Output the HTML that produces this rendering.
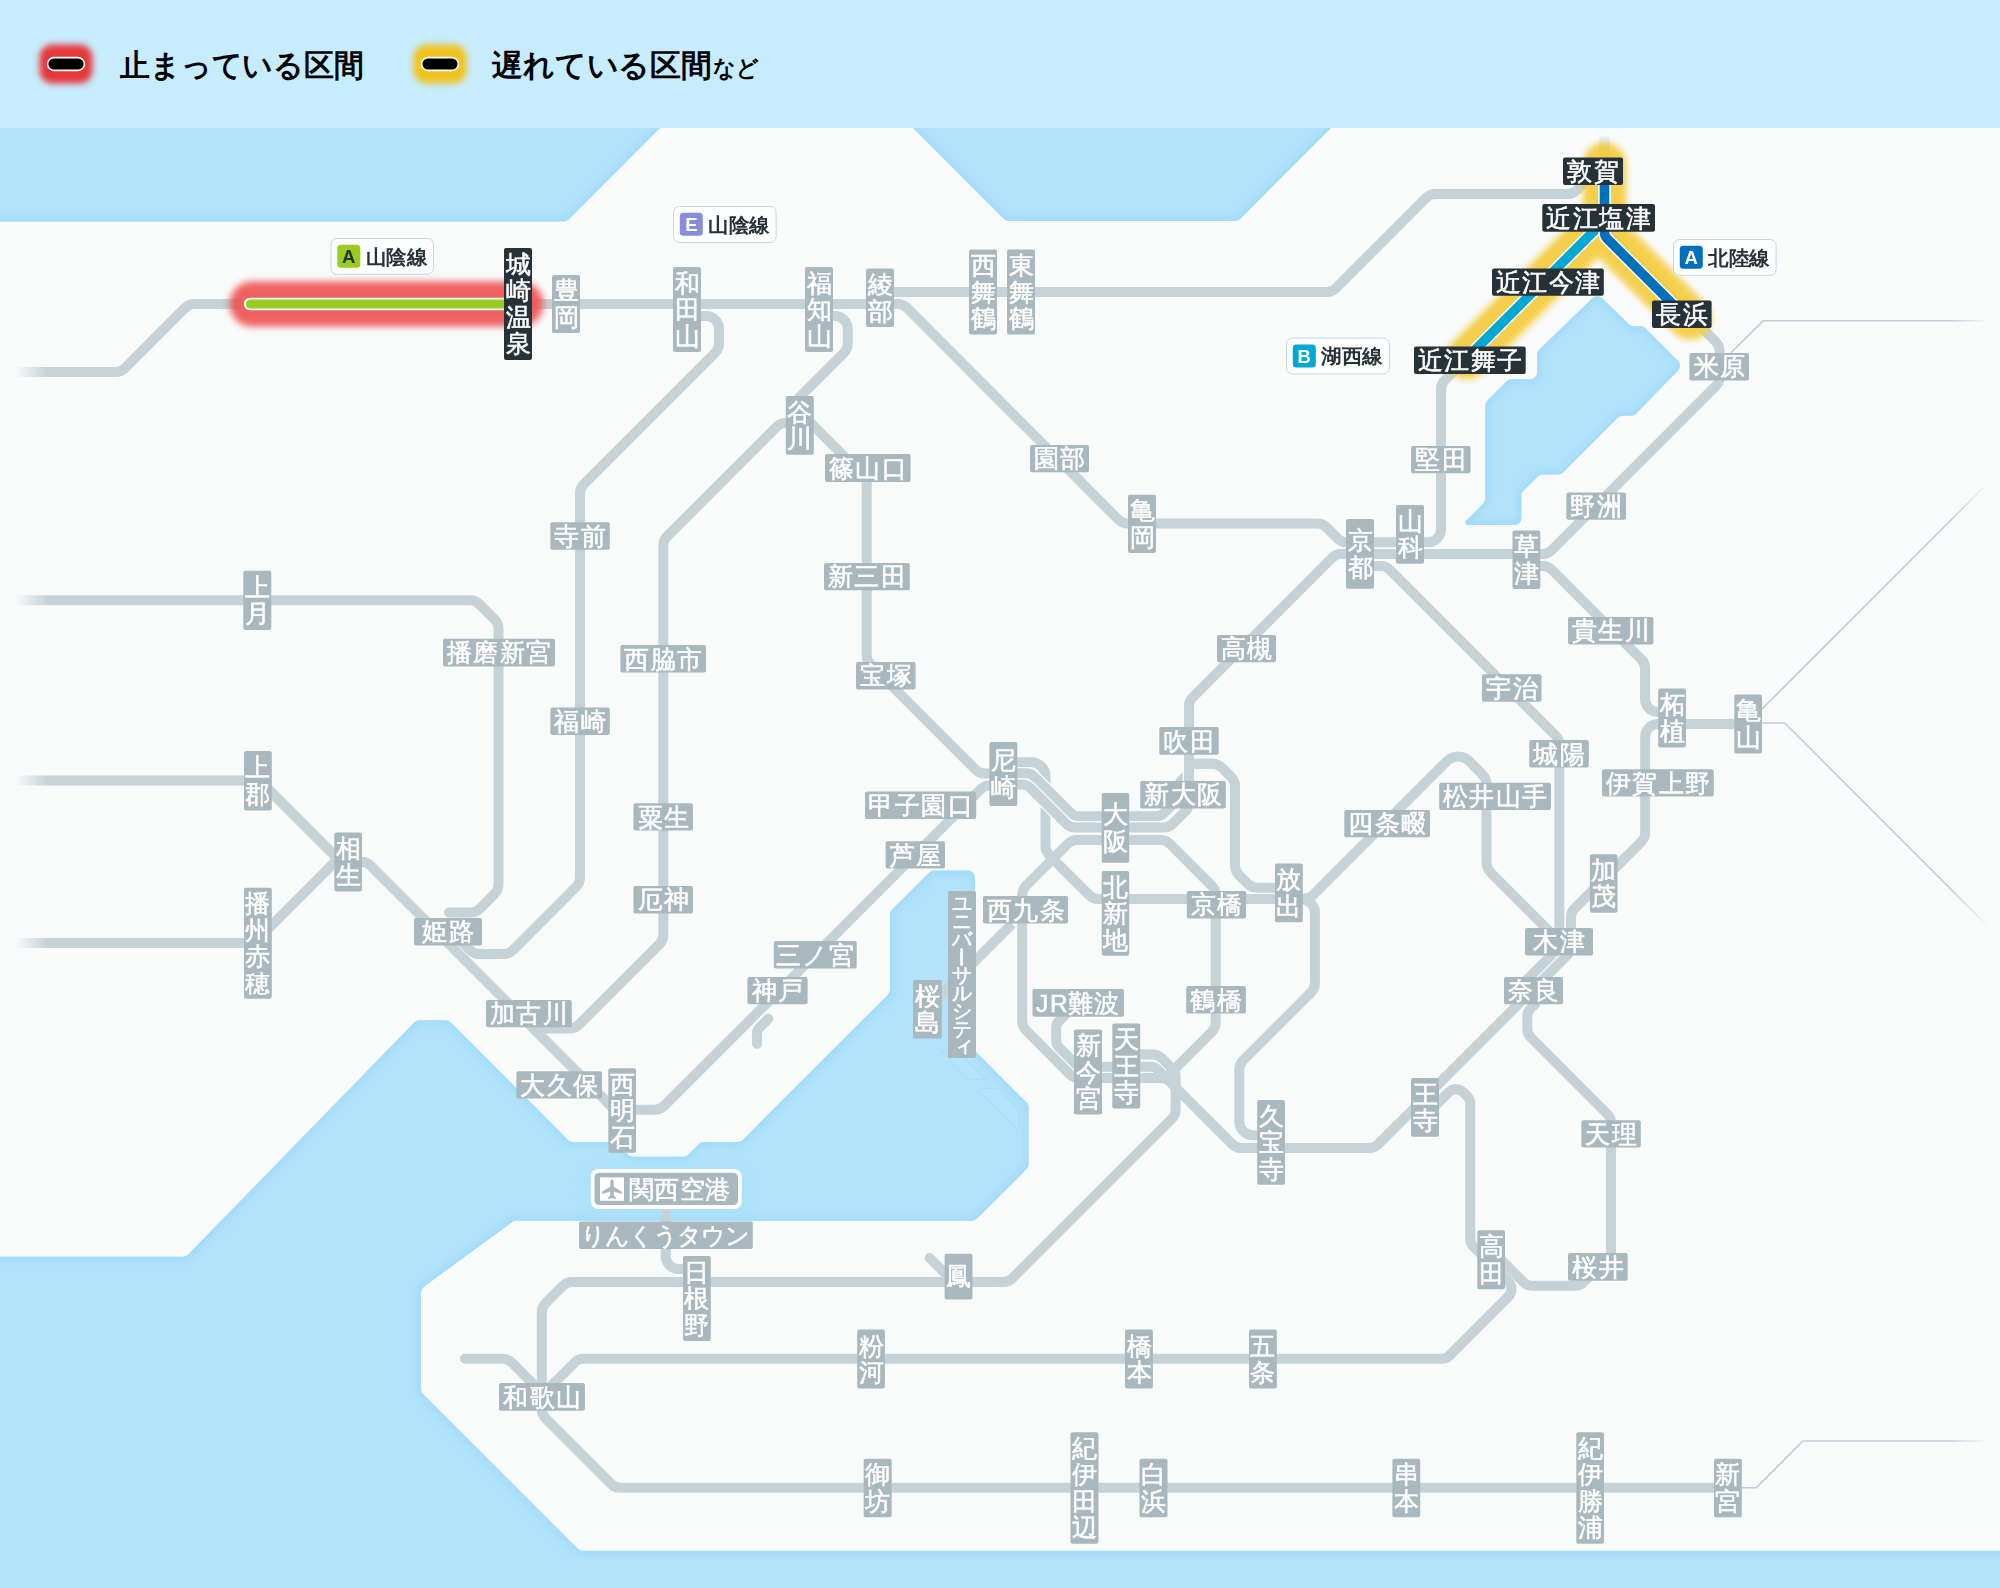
<!DOCTYPE html>
<html lang="ja"><head><meta charset="utf-8"><title>JR West operation map</title>
<style>html,body{margin:0;padding:0;background:#c6ecfe}body{width:2000px;height:1588px;overflow:hidden;font-family:"Liberation Sans", sans-serif}svg{display:block}svg text{font-family:"Liberation Sans", sans-serif}.st text{fill:#fff;text-anchor:middle;stroke:#fff;stroke-width:0.55px}</style></head><body>
<svg width="2000" height="1588" viewBox="0 0 2000 1588">
<defs>
<filter id="gl" filterUnits="userSpaceOnUse" x="0" y="0" width="2000" height="1588"><feGaussianBlur stdDeviation="3.6"/></filter>
<filter id="gl2" filterUnits="userSpaceOnUse" x="0" y="0" width="2000" height="1588"><feGaussianBlur stdDeviation="3.4"/></filter>
<filter id="se" filterUnits="userSpaceOnUse" x="-50" y="0" width="2100" height="1700"><feGaussianBlur stdDeviation="3.5"/></filter>
<filter id="halo" x="-20%" y="-60%" width="140%" height="220%"><feGaussianBlur stdDeviation="9"/></filter>
<linearGradient id="fl" x1="0" x2="1" y1="0" y2="0"><stop offset="0" stop-color="#f9fbfb"/><stop offset="0.3" stop-color="#f9fbfb"/><stop offset="1" stop-color="#f9fbfb" stop-opacity="0"/></linearGradient>
<linearGradient id="fr" x1="0" x2="1" y1="0" y2="0"><stop offset="0" stop-color="#f9fbfb" stop-opacity="0"/><stop offset="0.8" stop-color="#f9fbfb"/><stop offset="1" stop-color="#f9fbfb"/></linearGradient>
<linearGradient id="ft" x1="0" x2="0" y1="0" y2="1"><stop offset="0" stop-color="#f9fbfb"/><stop offset="1" stop-color="#f9fbfb" stop-opacity="0"/></linearGradient>
<clipPath id="sc0"><path d="M-20,107A7,7 0 0 1 -13,100L671.1,100A7,7 0 0 1 676.1,111.9L568.6,219.4A7,7 0 0 1 563.6,221.5L-13,221.5A7,7 0 0 1 -20,214.5Z"/></clipPath>
<clipPath id="sc1"><path d="M896.9,111.9A7,7 0 0 1 901.9,100L1342.1,100A7,7 0 0 1 1347.1,111.9L1240.1,218.9A7,7 0 0 1 1235.1,221L1008.9,221A7,7 0 0 1 1003.9,218.9Z"/></clipPath>
<clipPath id="sc2"><path d="M1592.3,298.2A7,7 0 0 1 1602.1,298.2L1629,324.3A7,7 0 0 0 1633.8,326.3L1640.6,326.3A7,7 0 0 1 1645.6,328.4L1677.9,360.7A7,7 0 0 1 1678,370.5L1636.1,413.7A7,7 0 0 1 1631,415.8L1622.4,415.8A7,7 0 0 0 1617.4,417.9L1563,472.5A7,7 0 0 1 1558,474.6L1542.6,474.6A7,7 0 0 0 1537.6,476.7L1523.5,490.8A7,7 0 0 0 1521.4,495.8L1521.4,518A7,7 0 0 1 1514.4,525L1468,525A2.5,2.5 0 0 1 1466.2,520.7L1483.3,503.6A7,7 0 0 0 1485.3,498.7L1485.3,405.4A7,7 0 0 1 1487.4,400.4L1506.4,381.4A7,7 0 0 1 1511.4,379.3L1530.2,379.3A7,7 0 0 0 1537.2,372.3L1537.2,354.5A7,7 0 0 1 1539.3,349.4Z"/></clipPath>
<clipPath id="sc3"><path d="M-20,1263.7A7,7 0 0 1 -13,1256.7L183,1256.7A7,7 0 0 0 188.1,1254.6L414.5,1022.3A7,7 0 0 1 419.6,1020.2L445.5,1020.2A7,7 0 0 1 450.5,1022.3L568.1,1139.9A7,7 0 0 0 573.1,1142L618.3,1142A7,7 0 0 1 625.1,1147.6L625.9,1151.1A7,7 0 0 0 632.7,1156.7L683.1,1156.7A7,7 0 0 0 688,1154.7L699,1144A7,7 0 0 1 703.9,1142L737.7,1142A7,7 0 0 0 742.7,1139.9L887.9,994.7A7,7 0 0 0 890,989.7L890,914.5A7,7 0 0 1 892.1,909.5L929.4,872.6A7,7 0 0 1 934.3,870.6L968,870.6A7,7 0 0 1 975,877.6L975,1048.1A7,7 0 0 0 977.1,1053.1L1026.6,1102.6A7,7 0 0 1 1028.7,1107.6L1028.7,1164.1A7,7 0 0 1 1026.6,1169.1L977.1,1218.6A7,7 0 0 1 972.1,1220.7L516.3,1220.7A7,7 0 0 0 512.2,1222.1L423.9,1286.7A7,7 0 0 0 421,1292.4L421,1389.1A7,7 0 0 0 423.1,1394.1L577.6,1548.6A7,7 0 0 0 582.6,1550.7L2013,1550.7A7,7 0 0 1 2020,1557.7L2020,1613A7,7 0 0 1 2013,1620L-13,1620A7,7 0 0 1 -20,1613Z"/></clipPath>
<clipPath id="map"><rect x="0" y="128" width="2000" height="1460"/></clipPath>
</defs>
<rect width="2000" height="1588" fill="#f9fbfb"/>
<g clip-path="url(#map)">
<path d="M-20,107A7,7 0 0 1 -13,100L671.1,100A7,7 0 0 1 676.1,111.9L568.6,219.4A7,7 0 0 1 563.6,221.5L-13,221.5A7,7 0 0 1 -20,214.5Z" fill="#b2e3fb"/>
<g clip-path="url(#sc0)"><path d="M-20,107A7,7 0 0 1 -13,100L671.1,100A7,7 0 0 1 676.1,111.9L568.6,219.4A7,7 0 0 1 563.6,221.5L-13,221.5A7,7 0 0 1 -20,214.5Z" fill="none" stroke="#9dd9f9" stroke-width="7" filter="url(#se)"/></g>
<path d="M896.9,111.9A7,7 0 0 1 901.9,100L1342.1,100A7,7 0 0 1 1347.1,111.9L1240.1,218.9A7,7 0 0 1 1235.1,221L1008.9,221A7,7 0 0 1 1003.9,218.9Z" fill="#b2e3fb"/>
<g clip-path="url(#sc1)"><path d="M896.9,111.9A7,7 0 0 1 901.9,100L1342.1,100A7,7 0 0 1 1347.1,111.9L1240.1,218.9A7,7 0 0 1 1235.1,221L1008.9,221A7,7 0 0 1 1003.9,218.9Z" fill="none" stroke="#9dd9f9" stroke-width="7" filter="url(#se)"/></g>
<path d="M1592.3,298.2A7,7 0 0 1 1602.1,298.2L1629,324.3A7,7 0 0 0 1633.8,326.3L1640.6,326.3A7,7 0 0 1 1645.6,328.4L1677.9,360.7A7,7 0 0 1 1678,370.5L1636.1,413.7A7,7 0 0 1 1631,415.8L1622.4,415.8A7,7 0 0 0 1617.4,417.9L1563,472.5A7,7 0 0 1 1558,474.6L1542.6,474.6A7,7 0 0 0 1537.6,476.7L1523.5,490.8A7,7 0 0 0 1521.4,495.8L1521.4,518A7,7 0 0 1 1514.4,525L1468,525A2.5,2.5 0 0 1 1466.2,520.7L1483.3,503.6A7,7 0 0 0 1485.3,498.7L1485.3,405.4A7,7 0 0 1 1487.4,400.4L1506.4,381.4A7,7 0 0 1 1511.4,379.3L1530.2,379.3A7,7 0 0 0 1537.2,372.3L1537.2,354.5A7,7 0 0 1 1539.3,349.4Z" fill="#b2e3fb"/>
<g clip-path="url(#sc2)"><path d="M1592.3,298.2A7,7 0 0 1 1602.1,298.2L1629,324.3A7,7 0 0 0 1633.8,326.3L1640.6,326.3A7,7 0 0 1 1645.6,328.4L1677.9,360.7A7,7 0 0 1 1678,370.5L1636.1,413.7A7,7 0 0 1 1631,415.8L1622.4,415.8A7,7 0 0 0 1617.4,417.9L1563,472.5A7,7 0 0 1 1558,474.6L1542.6,474.6A7,7 0 0 0 1537.6,476.7L1523.5,490.8A7,7 0 0 0 1521.4,495.8L1521.4,518A7,7 0 0 1 1514.4,525L1468,525A2.5,2.5 0 0 1 1466.2,520.7L1483.3,503.6A7,7 0 0 0 1485.3,498.7L1485.3,405.4A7,7 0 0 1 1487.4,400.4L1506.4,381.4A7,7 0 0 1 1511.4,379.3L1530.2,379.3A7,7 0 0 0 1537.2,372.3L1537.2,354.5A7,7 0 0 1 1539.3,349.4Z" fill="none" stroke="#9dd9f9" stroke-width="7" filter="url(#se)"/></g>
<path d="M-20,1263.7A7,7 0 0 1 -13,1256.7L183,1256.7A7,7 0 0 0 188.1,1254.6L414.5,1022.3A7,7 0 0 1 419.6,1020.2L445.5,1020.2A7,7 0 0 1 450.5,1022.3L568.1,1139.9A7,7 0 0 0 573.1,1142L618.3,1142A7,7 0 0 1 625.1,1147.6L625.9,1151.1A7,7 0 0 0 632.7,1156.7L683.1,1156.7A7,7 0 0 0 688,1154.7L699,1144A7,7 0 0 1 703.9,1142L737.7,1142A7,7 0 0 0 742.7,1139.9L887.9,994.7A7,7 0 0 0 890,989.7L890,914.5A7,7 0 0 1 892.1,909.5L929.4,872.6A7,7 0 0 1 934.3,870.6L968,870.6A7,7 0 0 1 975,877.6L975,1048.1A7,7 0 0 0 977.1,1053.1L1026.6,1102.6A7,7 0 0 1 1028.7,1107.6L1028.7,1164.1A7,7 0 0 1 1026.6,1169.1L977.1,1218.6A7,7 0 0 1 972.1,1220.7L516.3,1220.7A7,7 0 0 0 512.2,1222.1L423.9,1286.7A7,7 0 0 0 421,1292.4L421,1389.1A7,7 0 0 0 423.1,1394.1L577.6,1548.6A7,7 0 0 0 582.6,1550.7L2013,1550.7A7,7 0 0 1 2020,1557.7L2020,1613A7,7 0 0 1 2013,1620L-13,1620A7,7 0 0 1 -20,1613Z" fill="#b2e3fb"/>
<g clip-path="url(#sc3)"><path d="M-20,1263.7A7,7 0 0 1 -13,1256.7L183,1256.7A7,7 0 0 0 188.1,1254.6L414.5,1022.3A7,7 0 0 1 419.6,1020.2L445.5,1020.2A7,7 0 0 1 450.5,1022.3L568.1,1139.9A7,7 0 0 0 573.1,1142L618.3,1142A7,7 0 0 1 625.1,1147.6L625.9,1151.1A7,7 0 0 0 632.7,1156.7L683.1,1156.7A7,7 0 0 0 688,1154.7L699,1144A7,7 0 0 1 703.9,1142L737.7,1142A7,7 0 0 0 742.7,1139.9L887.9,994.7A7,7 0 0 0 890,989.7L890,914.5A7,7 0 0 1 892.1,909.5L929.4,872.6A7,7 0 0 1 934.3,870.6L968,870.6A7,7 0 0 1 975,877.6L975,1048.1A7,7 0 0 0 977.1,1053.1L1026.6,1102.6A7,7 0 0 1 1028.7,1107.6L1028.7,1164.1A7,7 0 0 1 1026.6,1169.1L977.1,1218.6A7,7 0 0 1 972.1,1220.7L516.3,1220.7A7,7 0 0 0 512.2,1222.1L423.9,1286.7A7,7 0 0 0 421,1292.4L421,1389.1A7,7 0 0 0 423.1,1394.1L577.6,1548.6A7,7 0 0 0 582.6,1550.7L2013,1550.7A7,7 0 0 1 2020,1557.7L2020,1613A7,7 0 0 1 2013,1620L-13,1620A7,7 0 0 1 -20,1613Z" fill="none" stroke="#9dd9f9" stroke-width="7" filter="url(#se)"/></g>
</g>
<rect width="2000" height="128" fill="#c6ecfe"/>
<g fill="#b4e5fb" stroke="#a3ddfa" stroke-width="1" stroke-linejoin="round"><path d="M942,1051.5L968,1078.5Q969,1079.3 970.5,1079.3H985L958,1051.5Z"/><path d="M980,1088.6H996.5Q998,1088.6 999,1089.6L1018.5,1109Q1019.3,1110 1019.3,1111.5V1127.5Q1019,1129.5 1017,1128.5L980,1091.5Q978.8,1089 980,1088.6Z"/></g>
<rect x="585" y="1166" width="162" height="46" rx="10" fill="#a8e0fb" filter="url(#halo)" opacity="0.9"/>
<g fill="none" stroke="#bfced6" stroke-width="1.6" stroke-linejoin="round">
<path d="M1731,352.7L1762.9,321.1A1,1 0 0 1 1763.6,320.8L1990,320.8"/>
<path d="M1762,709 L1996,475"/>
<path d="M1762,723L1784.2,723A1,1 0 0 1 1784.9,723.3L1996,934.4"/>
<path d="M1742,1487.7L1755.9,1487.7A1,1 0 0 0 1756.6,1487.4L1802.7,1441.3A1,1 0 0 1 1803.4,1441L1996,1441"/>
</g>
<g fill="none" stroke="#c5d2d8" stroke-width="10" stroke-linejoin="round">
<path d="M15,372L115.6,372A13,13 0 0 0 124.8,368.2L185.2,307.8A13,13 0 0 1 194.4,304L897.6,304A13,13 0 0 1 906.8,307.8L1118.7,519.8A13,13 0 0 0 1127.9,523.6L1317.3,523.6A13,13 0 0 1 1326.5,527.4L1337.7,538.6A13,13 0 0 0 1346.9,542.4L1350,542.4"/>
<path d="M890,292L1326.6,292A13,13 0 0 0 1335.8,288.2L1426.2,197.8A13,13 0 0 1 1435.4,194L1567.6,194A13,13 0 0 0 1576.8,190.2L1592,175"/>
<path d="M697,316L706,316A13,13 0 0 1 719,329L719,343.6A13,13 0 0 1 715.2,352.8L583.8,484.2A13,13 0 0 0 580,493.4L580,877.6A13,13 0 0 1 576.2,886.8L512.8,950.2A13,13 0 0 1 503.6,954L479.4,954A13,13 0 0 1 470.2,950.2L456,936"/>
<path d="M829,316L834.8,316A13,13 0 0 1 847.8,329L847.8,343.6A13,13 0 0 1 844,352.8L798,398.8"/>
<path d="M806,418.2 L850,462.2"/>
<path d="M866.7,470L866.7,655.3A13,13 0 0 0 870.5,664.5L975.7,769.7A13,13 0 0 0 984.9,773.5L995,773.5"/>
<path d="M792,423L785.9,423A13,13 0 0 0 776.7,426.8L667.1,536.4A13,13 0 0 0 663.3,545.6L663.3,934.9A13,13 0 0 1 659.5,944.1L578.8,1024.8A13,13 0 0 1 569.6,1028.6L536,1028.6"/>
<path d="M449,912.5L470.6,912.5A13,13 0 0 0 479.8,908.7L494.7,893.8A13,13 0 0 0 498.5,884.6L498.5,628.7A13,13 0 0 0 494.7,619.5L479.3,604.1A13,13 0 0 0 470.1,600.3L15,600.3" stroke-linecap="round"/>
<path d="M15,780.6L254.2,780.6A13,13 0 0 1 263.4,784.4L336.9,857.9A13,13 0 0 0 346.1,861.7L361.3,861.7A13,13 0 0 1 370.5,865.5L610.9,1105.9A13,13 0 0 0 620.1,1109.7L654.9,1109.7A13,13 0 0 0 664.1,1105.9L980.7,789.3A13,13 0 0 1 989.9,785.5L995,785.5"/>
<path d="M15,943L248.6,943A13,13 0 0 0 257.8,939.2L338,859"/>
<path d="M768.3,1018.7L759.3,1027.7A8,8 0 0 0 757,1033.3L757,1043.9" stroke-linecap="round"/>
<path d="M1370,566L1380.6,566A13,13 0 0 1 1389.8,569.8L1555.5,735.5A13,13 0 0 1 1559.3,744.7L1559.3,941.8A13,13 0 0 1 1555.5,951L1522,984.5"/>
<path d="M1240,899L1302.6,899A15.5,15.5 0 0 0 1313.5,894.5L1447,761A15.5,15.5 0 0 1 1469,761L1482,774A15.5,15.5 0 0 1 1486.5,784.9L1486.5,862.1A15.5,15.5 0 0 0 1491,873L1550,932"/>
<path d="M1189,763.7L1212.2,763.7A14,14 0 0 1 1222.1,767.8L1230.9,776.6A14,14 0 0 1 1235,786.5L1235,865.2A14,14 0 0 0 1239.1,875.1L1247.7,883.7A14,14 0 0 0 1257.6,887.8L1280,887.8"/>
<path d="M1296,899L1300.9,899A14,14 0 0 1 1314.9,913L1314.9,982.7A14,14 0 0 1 1310.8,992.6L1243.4,1060A14,14 0 0 0 1239.3,1069.9L1239.3,1121.3A14,14 0 0 0 1253.3,1135.3L1262,1135.3"/>
<path d="M1136,1054.5L1152.6,1054.5A13,13 0 0 1 1161.8,1058.3L1171.8,1068.3A13,13 0 0 1 1175.6,1077.5L1175.6,1109.6A13,13 0 0 1 1171.8,1118.8L1012.4,1278.2A13,13 0 0 1 1003.2,1282L572.2,1282A13,13 0 0 0 563,1285.8L545.6,1303.2A13,13 0 0 0 541.8,1312.4L541.8,1390"/>
<path d="M665.7,1205 L665.7,1225"/>
<path d="M665.7,1245L665.7,1256A13,13 0 0 0 678.7,1269L690,1269"/>
<path d="M929.7,1258 L950,1278.3" stroke-linecap="round"/>
<path d="M1070,1010L1059.1,1020.9A10,10 0 0 0 1056.2,1027.9L1056.2,1040.5A10,10 0 0 0 1059.1,1047.5L1075.5,1063.9A10,10 0 0 0 1082.5,1066.8L1150.8,1066.8A10,10 0 0 1 1157.8,1069.7L1166,1077.9"/>
<path d="M1431,1110L1448.9,1092.1A10.1,10.1 0 0 1 1463.2,1092.2L1467.1,1096.1A11,11 0 0 1 1470.3,1103.9L1470.3,1238.8A11,11 0 0 0 1473.5,1246.6L1508.2,1281.3A11,11 0 0 1 1508.2,1296.9L1449.5,1355.6A11,11 0 0 1 1441.7,1358.8L582.9,1358.8A11,11 0 0 0 575.1,1362L546,1391.1"/>
<path d="M1537,1002L1530.8,1008.2A12,12 0 0 0 1527.3,1016.7L1527.3,1029A12,12 0 0 0 1530.8,1037.5L1607.5,1114.2A12,12 0 0 1 1611,1122.7L1611,1264"/>
<path d="M1596,1269.7L1583.5,1282.2A12,12 0 0 1 1575,1285.7L1532,1285.7A12,12 0 0 1 1523.5,1282.2L1498,1256.7"/>
<path d="M541.8,1405L541.8,1409.3A13,13 0 0 0 545.6,1418.5L611,1483.9A13,13 0 0 0 620.2,1487.7L1720,1487.7"/>
<path d="M465,1358.8L502.6,1358.8A13,13 0 0 1 511.8,1362.6L540,1390.8" stroke-linecap="round"/>
<path d="M1012,924 L938,998"/>
<path d="M1536,566L1542.6,566A13,13 0 0 1 1551.8,569.8L1641.2,659.2A13,13 0 0 1 1645,668.4L1645,699A13,13 0 0 0 1658,712L1664,712"/>
<path d="M1571,932L1571,917.4A13,13 0 0 1 1574.8,908.2L1641.4,841.6A13,13 0 0 0 1645.2,832.4L1645.2,737A13,13 0 0 1 1658.2,724L1740,724"/>
<path d="M1370,554L1542.5,554A13,13 0 0 0 1551.7,550.2L1715.8,386.1A13,13 0 0 0 1719.6,376.9L1719.6,351A13,13 0 0 0 1715.8,341.8L1610,236L1605,231"/>
<path d="M1370,542.3L1428,542.3A13,13 0 0 0 1441,529.3L1441,389.4A13,13 0 0 1 1444.8,380.2L1593,232"/>
<path d="M1010,762.3L1031.5,762.3A14,14 0 0 1 1045.5,776.3L1045.5,845.7A14,14 0 0 0 1049.6,855.6L1088.9,894.9A14,14 0 0 0 1098.8,899L1280,899"/>
<path d="M1168,1075.7L1211.9,1031.8A13,13 0 0 0 1215.7,1022.6L1215.7,895.1A13,13 0 0 0 1211.9,885.9L1169.8,843.8A13,13 0 0 0 1160.6,840L1077.1,840A13,13 0 0 0 1067.9,843.8L1026,885.7A13,13 0 0 0 1022.2,894.9L1022.2,1021.1A13,13 0 0 0 1026,1030.3L1069.8,1074.1A13,13 0 0 0 1079,1077.9L1160.6,1077.9A13,13 0 0 1 1169.8,1081.7L1232.2,1144.1A13,13 0 0 0 1241.4,1147.9L1369.2,1147.9A13,13 0 0 0 1378.4,1144.1L1567.2,955.3A13,13 0 0 0 1571,946.1L1571,925"/>
</g>
<g fill="none" stroke-linejoin="round">
<path d="M1010,773.3L1026,773.3A12,12 0 0 1 1034.5,776.8L1070.5,812.8A12,12 0 0 0 1079,816.3L1156,816.3A12,12 0 0 0 1164.5,812.8L1174.5,802.8A12,12 0 0 0 1178,794.3L1178,789A12,12 0 0 1 1181.5,780.5L1185.5,776.5A12,12 0 0 0 1189,768L1189,760" stroke="#f9fbfb" stroke-width="12.6"/><path d="M1010,773.3L1026,773.3A12,12 0 0 1 1034.5,776.8L1070.5,812.8A12,12 0 0 0 1079,816.3L1156,816.3A12,12 0 0 0 1164.5,812.8L1174.5,802.8A12,12 0 0 0 1178,794.3L1178,789A12,12 0 0 1 1181.5,780.5L1185.5,776.5A12,12 0 0 0 1189,768L1189,760" stroke="#c5d2d8" stroke-width="10"/>
<path d="M1010,784.6L1021.6,784.6A13,13 0 0 1 1030.8,788.4L1066.2,823.8A13,13 0 0 0 1075.4,827.6L1163.6,827.6A13,13 0 0 0 1172.8,823.8L1185.2,811.4A13,13 0 0 0 1189,802.2L1189,706.4A13,13 0 0 1 1192.8,697.2L1332.2,557.8A13,13 0 0 1 1341.4,554L1352,554" stroke="#f9fbfb" stroke-width="12.6"/><path d="M1010,784.6L1021.6,784.6A13,13 0 0 1 1030.8,788.4L1066.2,823.8A13,13 0 0 0 1075.4,827.6L1163.6,827.6A13,13 0 0 0 1172.8,823.8L1185.2,811.4A13,13 0 0 0 1189,802.2L1189,706.4A13,13 0 0 1 1192.8,697.2L1332.2,557.8A13,13 0 0 1 1341.4,554L1352,554" stroke="#c5d2d8" stroke-width="10"/>
<path d="M1189,763.7H1214" stroke="#c5d2d8" stroke-width="10"/>
</g>
<rect x="0" y="330" width="48" height="660" fill="url(#fl)"/>
<rect x="1950" y="300" width="50" height="1180" fill="url(#fr)"/>
<path d="M1604.5,136V160" stroke="#c5d2d8" stroke-width="10" fill="none"/>
<rect x="1596" y="134" width="18" height="16" fill="url(#ft)"/>
<g fill="none" stroke-linecap="round" stroke-linejoin="round" opacity="0.93">
<path d="M252,304H521" stroke="#ee5452" stroke-width="45" filter="url(#gl)"/>
<g filter="url(#gl2)" stroke="#f4cc41" stroke-width="43"><path d="M1604.5,164V233L1690,318.5"/><path d="M1600,225L1467,358"/></g>
</g>
<g fill="none" stroke-linejoin="round">
<path d="M250,304H510" stroke="#fff" stroke-width="12.4" stroke-linecap="round"/><path d="M250.4,304H510" stroke="#9bcb1e" stroke-width="9" stroke-linecap="round"/>
<path d="M1604.5,220.5 L1470,355" stroke="#fff" stroke-width="12.6"/><path d="M1604.5,220.5 L1470,355" stroke="#00a8d3" stroke-width="9.6"/>
<path d="M1604.5,170L1604.5,232.3A9,9 0 0 0 1607.1,238.6L1690,321.5" stroke="#fff" stroke-width="12.6"/><path d="M1604.5,170L1604.5,232.3A9,9 0 0 0 1607.1,238.6L1690,321.5" stroke="#0071bc" stroke-width="9.6"/>
</g>
<g class="st">
<rect x="552" y="275" width="28" height="58" rx="2" fill="#a9b8be"/><text x="566 566" y="299.4 325.9" font-size="24.5">豊岡</text>
<rect x="673" y="267" width="28" height="85" rx="2" fill="#a9b8be"/><text x="687 687 687" y="291.7 318.2 344.7" font-size="24.5">和田山</text>
<rect x="805" y="267" width="28" height="85" rx="2" fill="#a9b8be"/><text x="819 819 819" y="291.7 318.2 344.7" font-size="24.5">福知山</text>
<rect x="866" y="268.5" width="28" height="58.5" rx="2" fill="#a9b8be"/><text x="880 880" y="293.2 319.7" font-size="24.5">綾部</text>
<rect x="969" y="249.4" width="28" height="85.1" rx="2" fill="#a9b8be"/><text x="983 983 983" y="274.1 300.6 327.1" font-size="24.5">西舞鶴</text>
<rect x="1007" y="249.4" width="28" height="85.1" rx="2" fill="#a9b8be"/><text x="1021 1021 1021" y="274.1 300.6 327.1" font-size="24.5">東舞鶴</text>
<rect x="785.8" y="396" width="28" height="58.7" rx="2" fill="#a9b8be"/><text x="799.8 799.8" y="420.8 447.3" font-size="24.5">谷川</text>
<rect x="1128" y="494.7" width="28" height="58.3" rx="2" fill="#a9b8be"/><text x="1142 1142" y="519.3 545.8" font-size="24.5">亀岡</text>
<rect x="1346" y="519" width="28" height="69.8" rx="2" fill="#a9b8be"/><text x="1360 1360" y="549.3 575.8" font-size="24.5">京都</text>
<rect x="1396" y="505" width="28" height="58.7" rx="2" fill="#a9b8be"/><text x="1410 1410" y="529.8 556.3" font-size="24.5">山科</text>
<rect x="1512.5" y="530.6" width="27.8" height="58.4" rx="2" fill="#a9b8be"/><text x="1526.4 1526.4" y="555.2 581.7" font-size="24.5">草津</text>
<rect x="243.3" y="570.8" width="28" height="59.2" rx="2" fill="#a9b8be"/><text x="257.3 257.3" y="595.8 622.3" font-size="24.5">上月</text>
<rect x="244" y="751" width="27.8" height="59.4" rx="2" fill="#a9b8be"/><text x="257.9 257.9" y="776.1 802.6" font-size="24.5">上郡</text>
<rect x="334.3" y="832.5" width="27.7" height="59" rx="2" fill="#a9b8be"/><text x="348.1 348.1" y="857.4 883.9" font-size="24.5">相生</text>
<rect x="244" y="887.7" width="27.8" height="111.1" rx="2" fill="#a9b8be"/><text x="257.9 257.9 257.9 257.9" y="912.2 938.7 965.2 991.7" font-size="24.5">播州赤穂</text>
<rect x="989.4" y="742" width="27.9" height="64" rx="2" fill="#a9b8be"/><text x="1003.3 1003.3" y="769.4 795.9" font-size="24.5">尼崎</text>
<rect x="1101.7" y="793" width="27.5" height="69.8" rx="2" fill="#a9b8be"/><text x="1115.5 1115.5" y="823.3 849.8" font-size="24.5">大阪</text>
<rect x="1101.7" y="871" width="27.5" height="84.8" rx="2" fill="#a9b8be"/><text x="1115.5 1115.5 1115.5" y="895.6 922.1 948.6" font-size="24.5">北新地</text>
<rect x="1275" y="863.5" width="27.8" height="58.7" rx="2" fill="#a9b8be"/><text x="1288.9 1288.9" y="888.3 914.8" font-size="24.5">放出</text>
<rect x="1658.2" y="688.5" width="27.8" height="58.9" rx="2" fill="#a9b8be"/><text x="1672.1 1672.1" y="713.4 739.9" font-size="24.5">柘植</text>
<rect x="1734.3" y="694.5" width="27.7" height="58.9" rx="2" fill="#a9b8be"/><text x="1748.2 1748.2" y="719.4 745.9" font-size="24.5">亀山</text>
<rect x="1589.9" y="854.3" width="27.6" height="58.4" rx="2" fill="#a9b8be"/><text x="1603.7 1603.7" y="878.9 905.4" font-size="24.5">加茂</text>
<rect x="608.3" y="1068.3" width="27.7" height="84.4" rx="2" fill="#a9b8be"/><text x="622.1 622.1 622.1" y="1092.7 1119.2 1145.7" font-size="24.5">西明石</text>
<rect x="913" y="980" width="28.8" height="58.4" rx="2" fill="#a9b8be"/><text x="927.4 927.4" y="1004.6 1031.1" font-size="24.5">桜島</text>
<rect x="1074" y="1029.5" width="28" height="85.1" rx="2" fill="#a9b8be"/><text x="1088 1088 1088" y="1054.2 1080.7 1107.2" font-size="24.5">新今宮</text>
<rect x="1112.3" y="1023.5" width="27.9" height="84.9" rx="2" fill="#a9b8be"/><text x="1126.2 1126.2 1126.2" y="1048.1 1074.6 1101.1" font-size="24.5">天王寺</text>
<rect x="1257.2" y="1100" width="27.8" height="84.7" rx="2" fill="#a9b8be"/><text x="1271.1 1271.1 1271.1" y="1124.5 1151 1177.5" font-size="24.5">久宝寺</text>
<rect x="1411" y="1078" width="28" height="58.8" rx="2" fill="#a9b8be"/><text x="1425 1425" y="1102.8 1129.3" font-size="24.5">王寺</text>
<rect x="1477.3" y="1230.3" width="27.7" height="59" rx="2" fill="#a9b8be"/><text x="1491.2 1491.2" y="1255.2 1281.7" font-size="24.5">高田</text>
<rect x="683" y="1256" width="27.8" height="85" rx="2" fill="#a9b8be"/><text x="696.9 696.9 696.9" y="1280.7 1307.2 1333.7" font-size="24.5">日根野</text>
<rect x="944.6" y="1253.7" width="27.9" height="45.9" rx="2" fill="#a9b8be"/><text x="958.5" y="1285.3" font-size="24.5">鳳</text>
<rect x="857.2" y="1329.6" width="27.7" height="58.9" rx="2" fill="#a9b8be"/><text x="871 871" y="1354.5 1381" font-size="24.5">粉河</text>
<rect x="1125" y="1329.6" width="27.9" height="58.9" rx="2" fill="#a9b8be"/><text x="1139 1139" y="1354.5 1381" font-size="24.5">橋本</text>
<rect x="1249" y="1329.6" width="27.8" height="58.9" rx="2" fill="#a9b8be"/><text x="1262.9 1262.9" y="1354.5 1381" font-size="24.5">五条</text>
<rect x="863.7" y="1458.8" width="28" height="58.4" rx="2" fill="#a9b8be"/><text x="877.7 877.7" y="1483.4 1509.9" font-size="24.5">御坊</text>
<rect x="1070.5" y="1432.3" width="28" height="111.4" rx="2" fill="#a9b8be"/><text x="1084.5 1084.5 1084.5 1084.5" y="1456.9 1483.4 1509.9 1536.4" font-size="24.5">紀伊田辺</text>
<rect x="1139.5" y="1458.8" width="28" height="58.4" rx="2" fill="#a9b8be"/><text x="1153.5 1153.5" y="1483.4 1509.9" font-size="24.5">白浜</text>
<rect x="1392.4" y="1458.8" width="27.8" height="58.4" rx="2" fill="#a9b8be"/><text x="1406.3 1406.3" y="1483.4 1509.9" font-size="24.5">串本</text>
<rect x="1576.3" y="1432.3" width="27.7" height="111.4" rx="2" fill="#a9b8be"/><text x="1590.2 1590.2 1590.2 1590.2" y="1456.9 1483.4 1509.9 1536.4" font-size="24.5">紀伊勝浦</text>
<rect x="1714" y="1458.8" width="27.8" height="58.4" rx="2" fill="#a9b8be"/><text x="1727.9 1727.9" y="1483.4 1509.9" font-size="24.5">新宮</text>
<rect x="825" y="454" width="85.5" height="28" rx="2" fill="#a9b8be"/><text x="841.2 867.8 894.2" y="476.7" font-size="24.5">篠山口</text>
<rect x="1030" y="445" width="59" height="27.3" rx="2" fill="#a9b8be"/><text x="1046.2 1072.8" y="467.3" font-size="24.5">園部</text>
<rect x="1411" y="446" width="59.5" height="27.3" rx="2" fill="#a9b8be"/><text x="1427.5 1454" y="468.3" font-size="24.5">堅田</text>
<rect x="1689.4" y="353" width="59.6" height="27.4" rx="2" fill="#a9b8be"/><text x="1706 1732.5" y="375.4" font-size="24.5">米原</text>
<rect x="1566.3" y="492.5" width="59.7" height="27.3" rx="2" fill="#a9b8be"/><text x="1582.9 1609.4" y="514.8" font-size="24.5">野洲</text>
<rect x="550.4" y="522.3" width="59.4" height="27.4" rx="2" fill="#a9b8be"/><text x="566.8 593.3" y="544.7" font-size="24.5">寺前</text>
<rect x="443" y="638.8" width="112" height="27.7" rx="2" fill="#a9b8be"/><text x="459.2 485.8 512.2 538.8" y="661.3" font-size="24.5">播磨新宮</text>
<rect x="620.4" y="645" width="85.6" height="27.6" rx="2" fill="#a9b8be"/><text x="636.7 663.2 689.7" y="667.5" font-size="24.5">西脇市</text>
<rect x="550.4" y="707.6" width="59.4" height="27.4" rx="2" fill="#a9b8be"/><text x="566.8 593.3" y="730" font-size="24.5">福崎</text>
<rect x="633.5" y="803.3" width="59.5" height="27.3" rx="2" fill="#a9b8be"/><text x="650 676.5" y="825.6" font-size="24.5">粟生</text>
<rect x="633.5" y="886" width="59.5" height="27.5" rx="2" fill="#a9b8be"/><text x="650 676.5" y="908.4" font-size="24.5">厄神</text>
<rect x="824" y="563" width="85.8" height="27.3" rx="2" fill="#a9b8be"/><text x="840.4 866.9 893.4" y="585.3" font-size="24.5">新三田</text>
<rect x="856" y="662" width="59.6" height="27.5" rx="2" fill="#a9b8be"/><text x="872.5 899" y="684.4" font-size="24.5">宝塚</text>
<rect x="865" y="791.5" width="111.2" height="27.5" rx="2" fill="#a9b8be"/><text x="880.9 907.4 933.9 960.4" y="813.9" font-size="24.5">甲子園口</text>
<rect x="885.6" y="841.2" width="59.4" height="27.4" rx="2" fill="#a9b8be"/><text x="902 928.5" y="863.6" font-size="24.5">芦屋</text>
<rect x="1217" y="635" width="59" height="27.3" rx="2" fill="#a9b8be"/><text x="1233.2 1259.8" y="657.3" font-size="24.5">高槻</text>
<rect x="1159.3" y="727" width="59.4" height="27.8" rx="2" fill="#a9b8be"/><text x="1175.8 1202.2" y="749.6" font-size="24.5">吹田</text>
<rect x="1140.2" y="781" width="85.6" height="27.4" rx="2" fill="#a9b8be"/><text x="1156.5 1183 1209.5" y="803.4" font-size="24.5">新大阪</text>
<rect x="1186.8" y="891" width="59.2" height="27.4" rx="2" fill="#a9b8be"/><text x="1203.2 1229.7" y="913.4" font-size="24.5">京橋</text>
<rect x="1344.3" y="810" width="85.7" height="27.3" rx="2" fill="#a9b8be"/><text x="1360.7 1387.2 1413.7" y="832.3" font-size="24.5">四条畷</text>
<rect x="1439.2" y="782.8" width="111.8" height="27.2" rx="2" fill="#a9b8be"/><text x="1455.3 1481.8 1508.3 1534.8" y="805.1" font-size="24.5">松井山手</text>
<rect x="1482" y="674.2" width="59.5" height="27.6" rx="2" fill="#a9b8be"/><text x="1498.5 1525" y="696.7" font-size="24.5">宇治</text>
<rect x="1568" y="617" width="85.4" height="27.4" rx="2" fill="#a9b8be"/><text x="1584.2 1610.7 1637.2" y="639.4" font-size="24.5">貴生川</text>
<rect x="1529.3" y="740" width="59.5" height="27.6" rx="2" fill="#a9b8be"/><text x="1545.8 1572.3" y="762.5" font-size="24.5">城陽</text>
<rect x="1602" y="769.2" width="111.8" height="27.4" rx="2" fill="#a9b8be"/><text x="1618.2 1644.7 1671.2 1697.7" y="791.6" font-size="24.5">伊賀上野</text>
<rect x="983" y="896" width="85" height="27.6" rx="2" fill="#a9b8be"/><text x="999 1025.5 1052" y="918.5" font-size="24.5">西九条</text>
<rect x="414" y="918" width="68" height="27.4" rx="2" fill="#a9b8be"/><text x="434.8 461.2" y="940.4" font-size="24.5">姫路</text>
<rect x="486" y="1000" width="85.8" height="27.3" rx="2" fill="#a9b8be"/><text x="502.4 528.9 555.4" y="1022.3" font-size="24.5">加古川</text>
<rect x="516.4" y="1071.2" width="85.6" height="27.4" rx="2" fill="#a9b8be"/><text x="532.7 559.2 585.7" y="1093.6" font-size="24.5">大久保</text>
<rect x="773.8" y="941" width="82.9" height="27.6" rx="2" fill="#a9b8be"/><text x="788.8 815.2 841.8" y="963.5" font-size="24.5">三ノ宮</text>
<rect x="747.4" y="976.9" width="60.2" height="27.4" rx="2" fill="#a9b8be"/><text x="764.2 790.8" y="999.3" font-size="24.5">神戸</text>
<rect x="1186.2" y="986" width="59.7" height="27.6" rx="2" fill="#a9b8be"/><text x="1202.8 1229.3" y="1008.5" font-size="24.5">鶴橋</text>
<rect x="1525" y="928" width="68" height="27.5" rx="2" fill="#a9b8be"/><text x="1545.8 1572.2" y="950.4" font-size="24.5">木津</text>
<rect x="1504" y="977" width="59" height="27.3" rx="2" fill="#a9b8be"/><text x="1520.2 1546.8" y="999.3" font-size="24.5">奈良</text>
<rect x="1581.4" y="1120.2" width="59.4" height="27.4" rx="2" fill="#a9b8be"/><text x="1597.8 1624.3" y="1142.6" font-size="24.5">天理</text>
<rect x="1568" y="1253" width="59.7" height="27.7" rx="2" fill="#a9b8be"/><text x="1584.6 1611.1" y="1275.5" font-size="24.5">桜井</text>
<rect x="499" y="1383" width="85.9" height="27.7" rx="2" fill="#a9b8be"/><text x="515.5 542 568.5" y="1405.5" font-size="24.5">和歌山</text>
<rect x="579" y="1221.6" width="173.8" height="27.4" rx="2" fill="#a9b8be"/><text x="593.9 617.9 641.9 665.9 689.9 713.9 737.9" y="1243.6" font-size="23.5">りんくうタウン</text>
<rect x="1032.5" y="989" width="91.5" height="27.8" rx="2" fill="#a9b8be"/>
<text x="1042 1058.8 1080.2 1106.1" y="1011.6" font-size="24.5">JR難波</text>
<rect x="948" y="891" width="28" height="167" rx="2" fill="#a9b8be"/>
<text font-size="20"><tspan x="962" y="910" rotate="0">ユ</tspan><tspan x="962" y="927.9" rotate="0">ニ</tspan><tspan x="962" y="945.9" rotate="0">バ</tspan><tspan x="962" y="963.8" rotate="90" dx="2.4" dy="-17">ー</tspan><tspan x="962" y="981.8" rotate="0">サ</tspan><tspan x="962" y="999.7" rotate="0">ル</tspan><tspan x="962" y="1017.7" rotate="0">シ</tspan><tspan x="962" y="1035.6" rotate="0">テ</tspan><tspan x="962" y="1053.6" rotate="0" dx="2" dy="-2">ィ</tspan></text>
<rect x="590.7" y="1169" width="151.1" height="39.9" rx="7.5" fill="#fff"/><rect x="594.5" y="1172.8" width="143.5" height="32.2" rx="4.5" fill="#a9b8be"/>
<rect x="600" y="1177.4" width="24" height="23.4" fill="#fff"/>
<path d="M612,1179.6c1.2,0,1.7,1.2,1.7,2.6v4.6l8,4.6v2.6l-8,-2.4v4l2.2,1.7v1.6l-3.9,-1l-3.9,1v-1.6l2.2,-1.7v-4l-8,2.4v-2.6l8,-4.6v-4.6c0,-1.4,0.5,-2.6,1.7,-2.6z" fill="#a9b8be"/>
<text x="641.5 666.8 692.1 717.4" y="1197.7" font-size="25">関西空港</text>
<rect x="504" y="248" width="28" height="112" rx="2" fill="#263238"/><text x="518 518 518 518" y="272.9 299.4 325.9 352.4" font-size="24.5">城崎温泉</text>
<rect x="1563" y="157.5" width="60" height="27.5" rx="2" fill="#263238"/><text x="1579.8 1606.2" y="179.9" font-size="24.5">敦賀</text>
<rect x="1542.3" y="204" width="112.7" height="27.8" rx="2" fill="#263238"/><text x="1558.9 1585.4 1611.9 1638.4" y="226.6" font-size="24.5">近江塩津</text>
<rect x="1492" y="268.5" width="111.8" height="27.3" rx="2" fill="#263238"/><text x="1508.2 1534.7 1561.2 1587.7" y="290.8" font-size="24.5">近江今津</text>
<rect x="1652" y="300.5" width="59.6" height="27.5" rx="2" fill="#263238"/><text x="1668.5 1695" y="322.9" font-size="24.5">長浜</text>
<rect x="1414" y="346.6" width="111.7" height="27.4" rx="2" fill="#263238"/><text x="1430.1 1456.6 1483.1 1509.6" y="369" font-size="24.5">近江舞子</text>
</g>
<rect x="331" y="238.5" width="102.5" height="35.8" rx="6" fill="#fdfefe" stroke="#c3d4e6" stroke-width="1"/><rect x="337.3" y="244.8" width="23" height="23" rx="3.5" fill="#9bcb1e"/><text x="348.8" y="262.9" font-size="18.5" font-weight="700" text-anchor="middle" fill="#263238">A</text><text x="365.8" y="263.6" font-size="20.3" font-weight="700" fill="#263238" textLength="61.5" lengthAdjust="spacingAndGlyphs">山陰線</text>
<rect x="673.5" y="206.5" width="102.6" height="36" rx="6" fill="#fdfefe" stroke="#c3d4e6" stroke-width="1"/><rect x="679.8" y="212.8" width="23" height="23" rx="3.5" fill="#898dd9"/><text x="691.3" y="230.9" font-size="18.5" font-weight="700" text-anchor="middle" fill="#fff">E</text><text x="708.3" y="231.6" font-size="20.3" font-weight="700" fill="#263238" textLength="61.5" lengthAdjust="spacingAndGlyphs">山陰線</text>
<rect x="1286.5" y="338.1" width="103" height="35.8" rx="6" fill="#fdfefe" stroke="#c3d4e6" stroke-width="1"/><rect x="1292.8" y="344.4" width="23" height="23" rx="3.5" fill="#00a8d3"/><text x="1304.3" y="362.5" font-size="18.5" font-weight="700" text-anchor="middle" fill="#fff">B</text><text x="1321.3" y="363.2" font-size="20.3" font-weight="700" fill="#263238" textLength="61.5" lengthAdjust="spacingAndGlyphs">湖西線</text>
<rect x="1673.5" y="239.5" width="102.6" height="35.8" rx="6" fill="#fdfefe" stroke="#c3d4e6" stroke-width="1"/><rect x="1679.8" y="245.8" width="23" height="23" rx="3.5" fill="#0071bc"/><text x="1691.3" y="263.9" font-size="18.5" font-weight="700" text-anchor="middle" fill="#fff">A</text><text x="1708.3" y="264.6" font-size="20.3" font-weight="700" fill="#263238" textLength="61.5" lengthAdjust="spacingAndGlyphs">北陸線</text>
<g>
<rect x="39.5" y="44.5" width="53" height="39" rx="13" fill="#e5383b" filter="url(#gl2)"/>
<rect x="47.6" y="57.6" width="36.8" height="12.8" rx="6.4" fill="#000" stroke="#fff" stroke-width="1.6"/>
<rect x="413.5" y="44.5" width="53" height="39" rx="13" fill="#f2c31c" filter="url(#gl2)"/>
<rect x="421.6" y="57.6" width="36.8" height="12.8" rx="6.4" fill="#000" stroke="#fff" stroke-width="1.6"/>
<text x="120" y="75.5" font-size="30.8" font-weight="700" fill="#000" textLength="244" lengthAdjust="spacingAndGlyphs">止まっている区間</text>
<text x="492" y="75.5" font-size="30.8" font-weight="700" fill="#000" textLength="220" lengthAdjust="spacingAndGlyphs">遅れている区間</text>
<text x="713" y="75.5" font-size="22.5" font-weight="700" fill="#000" textLength="46" lengthAdjust="spacingAndGlyphs">など</text>
</g>
</svg></body></html>
